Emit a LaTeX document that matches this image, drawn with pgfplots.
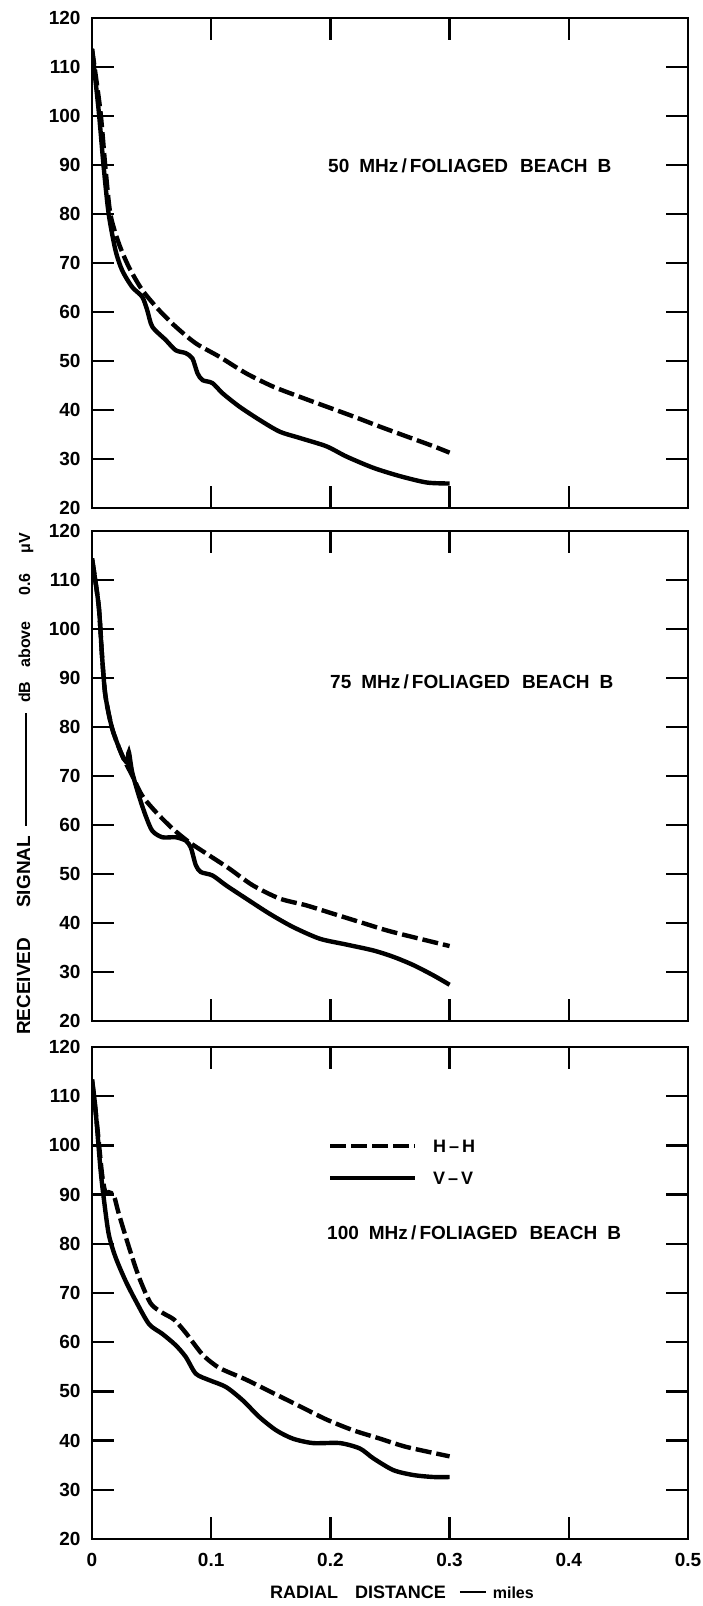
\documentclass[border=0pt]{standalone}
\usepackage{fontspec}
\setmainfont{Liberation Sans}
\usepackage{pgfplots}
\pgfplotsset{compat=1.18}
\pgfplotsset{
  panel/.style={
    width=596pt, height=490pt, scale only axis,
    anchor=north west,
    xmin=0, xmax=0.5, ymin=20, ymax=120,
    xtick={0,0.1,0.2,0.3,0.4,0.5},
    ytick={20,30,40,50,60,70,80,90,100,110,120},
    yticklabels={20,30,40,50,60,70,80,90,100,110,120},
    tick align=inside,
    major tick length=22pt,
    axis line style={line width=2.8pt},
    tick style={line width=2.4pt, black},
    yticklabel style={font=\fontsize{19}{19}\selectfont\bfseries, xshift=-8pt},
    xticklabel style={font=\fontsize{19}{19}\selectfont\bfseries, yshift=-11pt},
    /pgf/number format/assume math mode=true,
  },
  hh/.style={black, line width=4.4pt, dash pattern=on 16pt off 5pt, smooth, tension=0.45},
  vv/.style={black, line width=4.4pt, smooth, tension=0.45},
}
\begin{document}
\begin{tikzpicture}
\path[use as bounding box] (0,0) rectangle (702pt,-1606pt);

% ---------- Panel 1: 50 MHz ----------
\begin{axis}[panel, at={(92pt,-18pt)}, xticklabels={}]
\addplot[hh] coordinates {
(0,113.7) (0.007,101.1) (0.0112,89.6) (0.0154,80) (0.0225,74) (0.0309,69.2)
(0.0421,64.5) (0.0562,60.4) (0.0702,57) (0.0871,53.6) (0.1067,50.9)
(0.1292,47.5) (0.1517,44.8) (0.1742,42.7) (0.1966,40.7) (0.2191,38.7)
(0.2416,36.6) (0.264,34.6) (0.2865,32.6) (0.3,31.3)};
\addplot[vv] coordinates {
(0,113.7) (0.0056,101.1) (0.0098,89.6) (0.014,80) (0.0197,72.6) (0.0253,68.5)
(0.0337,65.1) (0.0421,63.1) (0.0463,60.4) (0.0506,57) (0.0618,54.3)
(0.0702,52.2) (0.0787,51.6) (0.0843,50.5) (0.0885,47.5) (0.0927,46.1)
(0.101,45.5) (0.1096,43.4) (0.1236,40.7) (0.1404,38) (0.1573,35.6)
(0.1742,34.3) (0.1966,32.6) (0.2135,30.5) (0.236,28.2) (0.2584,26.5)
(0.2809,25.2) (0.3,25.0)};
\end{axis}

% ---------- Panel 2: 75 MHz ----------
\begin{axis}[panel, at={(92pt,-531pt)}, xticklabels={}]
\addplot[hh] coordinates {
(0,114.4) (0.0056,104.8) (0.0084,94.6) (0.0112,86.5) (0.0169,79.7) (0.0253,74.2)
(0.0337,70.1) (0.0421,66) (0.0534,62.7) (0.0674,59.3) (0.0815,56.5)
(0.0983,53.8) (0.1152,51.1) (0.1348,47.7) (0.1573,45) (0.1798,43.6)
(0.2022,41.9) (0.2247,40.2) (0.2472,38.5) (0.2697,37.1) (0.3,35.3)};
\addplot[vv] coordinates {
(0,114.4) (0.0056,104.8) (0.0084,94.6) (0.0112,86.5) (0.0169,79.7) (0.0253,74.2)
(0.0295,72.8) (0.0309,74.9) (0.0337,70.8) (0.0393,66) (0.045,61.9)
(0.0506,58.8) (0.059,57.5) (0.0702,57.5) (0.0787,56.8) (0.0829,55.4)
(0.0871,51.8) (0.0913,50.4) (0.1011,49.7) (0.1124,47.7) (0.1292,45)
(0.1489,41.9) (0.1685,39.2) (0.191,36.8) (0.2135,35.6) (0.236,34.4)
(0.2528,33.1) (0.2697,31.4) (0.2865,29.3) (0.3,27.4)};
\end{axis}

% ---------- Panel 3: 100 MHz ----------
\begin{axis}[panel, at={(92pt,-1047pt)}, height=492pt,
  xticklabels={0,0.1,0.2,0.3,0.4,0.5}]
\addplot[hh] coordinates {
(0,113.4) (0.0042,104.3) (0.0084,94.2) (0.0112,90.5) (0.014,90.5) (0.0183,89.8)
(0.0225,86.1) (0.0309,79.4) (0.0393,73.3) (0.0492,67.9) (0.059,66)
(0.0688,64.6) (0.0787,61.9) (0.0927,57.5) (0.1067,54.8) (0.1292,52.4)
(0.1517,49.7) (0.1742,47) (0.1966,44.3) (0.2191,42.1) (0.2416,40.4)
(0.264,38.7) (0.3,36.8)};
\addplot[vv] coordinates {
(0,113.4) (0.0028,107.7) (0.007,95.5) (0.0098,89.4) (0.014,82) (0.0197,77.3)
(0.0281,72.5) (0.0365,68.5) (0.0478,63.7) (0.059,61.7) (0.0702,59.4)
(0.0787,57) (0.0871,53.6) (0.0983,52.3) (0.1124,50.9) (0.1264,48.2)
(0.1404,44.8) (0.1545,42.1) (0.1685,40.4) (0.1854,39.5) (0.2079,39.5)
(0.2247,38.4) (0.236,36.4) (0.2528,34) (0.2697,33) (0.2865,32.6) (0.3,32.6)};
\end{axis}

% ---------- Panel titles ----------
\node[anchor=west, font=\fontsize{19}{19}\selectfont\bfseries, inner sep=0pt]
  at (328pt,-166pt) {50\hspace{10pt}MHz\,/\,FOLIAGED\hspace{12pt}BEACH\hspace{10pt}B};
\node[anchor=west, font=\fontsize{19}{19}\selectfont\bfseries, inner sep=0pt]
  at (330pt,-682pt) {75\hspace{10pt}MHz\,/\,FOLIAGED\hspace{12pt}BEACH\hspace{10pt}B};
\node[anchor=west, font=\fontsize{19}{19}\selectfont\bfseries, inner sep=0pt]
  at (327pt,-1233pt) {100\hspace{10pt}MHz\,/\,FOLIAGED\hspace{12pt}BEACH\hspace{10pt}B};

% ---------- Legend ----------
\draw[line width=4.4pt, dash pattern=on 16pt off 5pt] (330pt,-1146pt) -- (415pt,-1146pt);
\draw[line width=4.4pt] (330pt,-1178pt) -- (415pt,-1178pt);
\node[anchor=west, font=\fontsize{18}{18}\selectfont\bfseries, inner sep=0pt]
  at (433pt,-1146pt) {H\,--\,H};
\node[anchor=west, font=\fontsize{18}{18}\selectfont\bfseries, inner sep=0pt]
  at (433pt,-1178pt) {V\,--\,V};

% ---------- Axis labels ----------
\node[anchor=west, font=\fontsize{18}{18}\selectfont\bfseries, inner sep=0pt]
  at (270pt,-1592pt) {RADIAL\hspace{17pt}DISTANCE\hspace{14pt}\rule[0.3em]{26pt}{1.8pt}\hspace{7pt}{\fontsize{16}{16}\selectfont miles}};
\node[rotate=90, anchor=west, inner sep=0pt]
  at (25pt,-1035pt) {{\fontsize{19}{19}\selectfont\bfseries RECEIVED\hspace{30pt}SIGNAL}\hspace{10pt}\rule[0.3em]{113pt}{1.8pt}\hspace{10pt}{\fontsize{16}{16}\selectfont\bfseries dB\hspace{14pt}above\hspace{26pt}0.6\hspace{20pt}μV}};
\end{tikzpicture}
\end{document}
